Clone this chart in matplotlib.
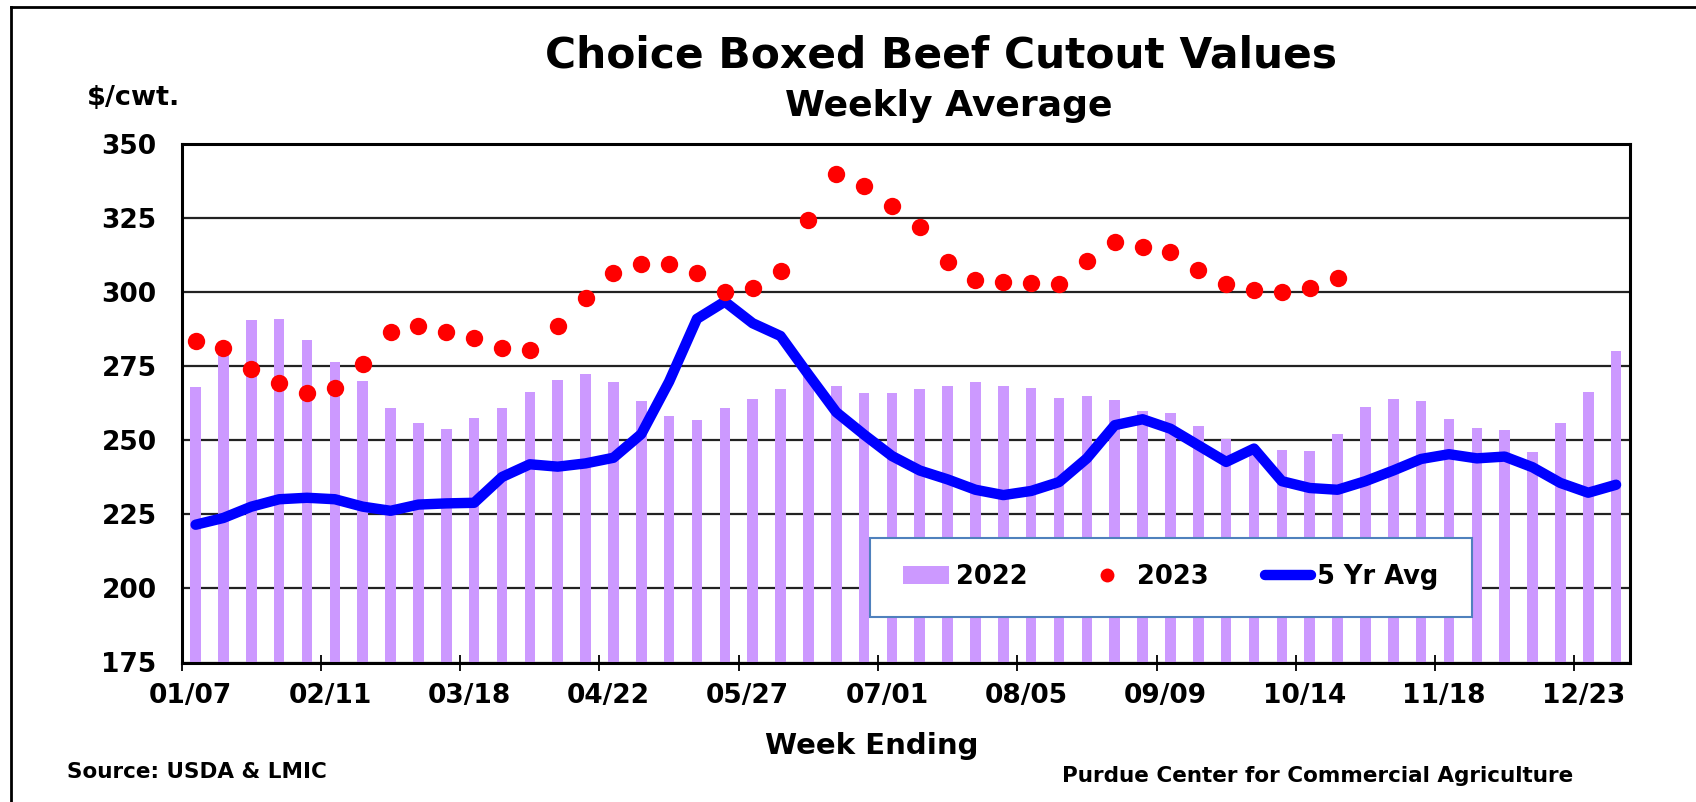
import matplotlib
matplotlib.use("Agg")
import matplotlib.pyplot as plt
import numpy as np
from matplotlib.patches import Rectangle
from matplotlib.lines import Line2D
from matplotlib.transforms import ScaledTranslation

plt.rcParams['font.family'] = ['DejaVu Sans']
plt.rcParams['font.weight'] = 'bold'

# weekly values, week ending 01/07 ... 12/30
beef_2022 = [268.0, 279.2, 290.7, 290.9, 284.0, 276.3, 269.9, 260.9, 255.7, 253.8,
             257.5, 261.0, 266.3, 270.5, 272.5, 269.7, 263.2, 258.3, 257.0, 261.0,
             264.1, 267.2, 272.0, 268.3, 266.1, 265.8, 267.3, 268.3, 269.7, 268.3,
             267.6, 264.2, 264.8, 263.5, 259.9, 259.3, 254.9, 250.3, 248.0, 246.8,
             246.5, 252.0, 261.2, 263.8, 263.3, 257.1, 254.3, 253.6, 246.2, 255.9,
             266.3, 280.0]
beef_2023 = [283.6, 281.3, 274.2, 269.2, 265.9, 267.8, 275.7, 286.7, 288.6, 286.6,
             284.4, 281.0, 280.6, 288.6, 297.9, 306.6, 309.4, 309.4, 306.6, 299.9,
             301.5, 307.0, 324.5, 340.0, 335.9, 329.2, 321.9, 310.1, 304.0, 303.4,
             303.1, 302.6, 310.5, 317.0, 315.1, 313.6, 307.6, 302.8, 300.8, 300.0,
             301.4, 304.7]
avg_5yr = [221.5, 223.8, 227.6, 230.1, 230.6, 230.1, 227.6, 226.2, 228.3, 228.7,
           228.9, 237.6, 241.9, 241.1, 242.2, 244.1, 252.1, 269.8, 291.0, 296.8,
           289.5, 285.2, 272.2, 259.5, 251.9, 244.7, 239.8, 236.8, 233.3, 231.5,
           232.9, 235.9, 243.9, 255.1, 257.1, 253.9, 248.3, 242.7, 247.2, 236.2,
           233.9, 233.3, 236.2, 239.8, 243.7, 245.3, 243.9, 244.5, 240.9, 235.6,
           232.3, 235.0]
week_labels = ['01/07', '02/11', '03/18', '04/22', '05/27', '07/01',
               '08/05', '09/09', '10/14', '11/18', '12/23']
y_ticks = [175, 200, 225, 250, 275, 300, 325, 350]

W, H = 1696, 802
fig = plt.figure(figsize=(W / 100, H / 100), dpi=100)
ax = fig.add_axes([181.7 / W, 1 - 662.5 / H, 1448.3 / W, 518.5 / H])

x22 = np.arange(len(beef_2022)) + 0.5
x23 = np.arange(len(beef_2023)) + 0.5

ax.bar(x22, beef_2022, width=0.38, color='#CC99FF', zorder=2, label='2022')
ax.plot(x22, avg_5yr, color='#0000FF', lw=7.5, solid_capstyle='round',
        solid_joinstyle='round', zorder=3, label='5 Yr Avg')
ax.plot(x23, beef_2023, 'o', color='#FF0000', ms=12.5, mec='none', zorder=4, label='2023')

ax.set_xlim(0, 52)
ax.set_ylim(175, 350)
ax.set_yticks(y_ticks)
ax.set_yticklabels([str(v) for v in y_ticks], fontsize=19, fontweight='bold')
ax.yaxis.grid(True, color='#222222', lw=1.6)
ax.set_axisbelow(True)
ax.tick_params(axis='y', length=0, pad=18)

ax.set_xticks(np.arange(0, 51, 5))
ax.set_xticklabels(week_labels, fontsize=19, fontweight='bold')
ax.tick_params(axis='x', direction='inout', length=11.5, width=1.3, pad=9)
for lab in ax.get_xticklabels():
    lab.set_transform(lab.get_transform() + ScaledTranslation(0.09, 0, fig.dpi_scale_trans))

for sp in ax.spines.values():
    sp.set_linewidth(2.2)
    sp.set_color('black')

# legend box
ax.add_patch(Rectangle((0.4752, 0.0887), 0.4157, 0.1518, transform=ax.transAxes,
                       facecolor='white', edgecolor='#4F81BD', lw=1.5, zorder=5))
h, l = ax.get_legend_handles_labels()
order = [l.index('2022'), l.index('2023'), l.index('5 Yr Avg')]
leg = ax.legend([h[i] for i in order], [l[i] for i in order], loc='center',
                bbox_to_anchor=(0.683, 0.1646), ncol=3, frameon=False,
                prop={'size': 18.5, 'weight': 'bold'}, handlelength=1.8,
                handletextpad=0.25, columnspacing=2.2, markerscale=0.8)
leg.set_zorder(6)

fig.text(941 / W, 1 - 56 / H, 'Choice Boxed Beef Cutout Values', ha='center',
         va='center', fontsize=30.5, fontweight='bold')
fig.text(949 / W, 1 - 106 / H, 'Weekly Average', ha='center', va='center',
         fontsize=26, fontweight='bold')
fig.text(87 / W, 1 - 98 / H, '$/cwt.', ha='left', va='center', fontsize=19.5,
         fontweight='bold')
fig.text(872 / W, 1 - 746 / H, 'Week Ending', ha='center', va='center',
         fontsize=21, fontweight='bold')
fig.text(67 / W, 1 - 772 / H, 'Source: USDA & LMIC', ha='left', va='center',
         fontsize=15.5, fontweight='bold')
fig.text(1318 / W, 1 - 775.5 / H, 'Purdue Center for Commercial Agriculture',
         ha='center', va='center', fontsize=15.5, fontweight='bold')

# outer chart frame (left and top edges)
fig.add_artist(Line2D([10.7 / W, 10.7 / W], [0, 1 - 7.3 / H], transform=fig.transFigure,
                      color='black', lw=2))
fig.add_artist(Line2D([10.7 / W, 1], [1 - 7.3 / H, 1 - 7.3 / H], transform=fig.transFigure,
                      color='black', lw=2))

fig.savefig('out.png', dpi=100)
